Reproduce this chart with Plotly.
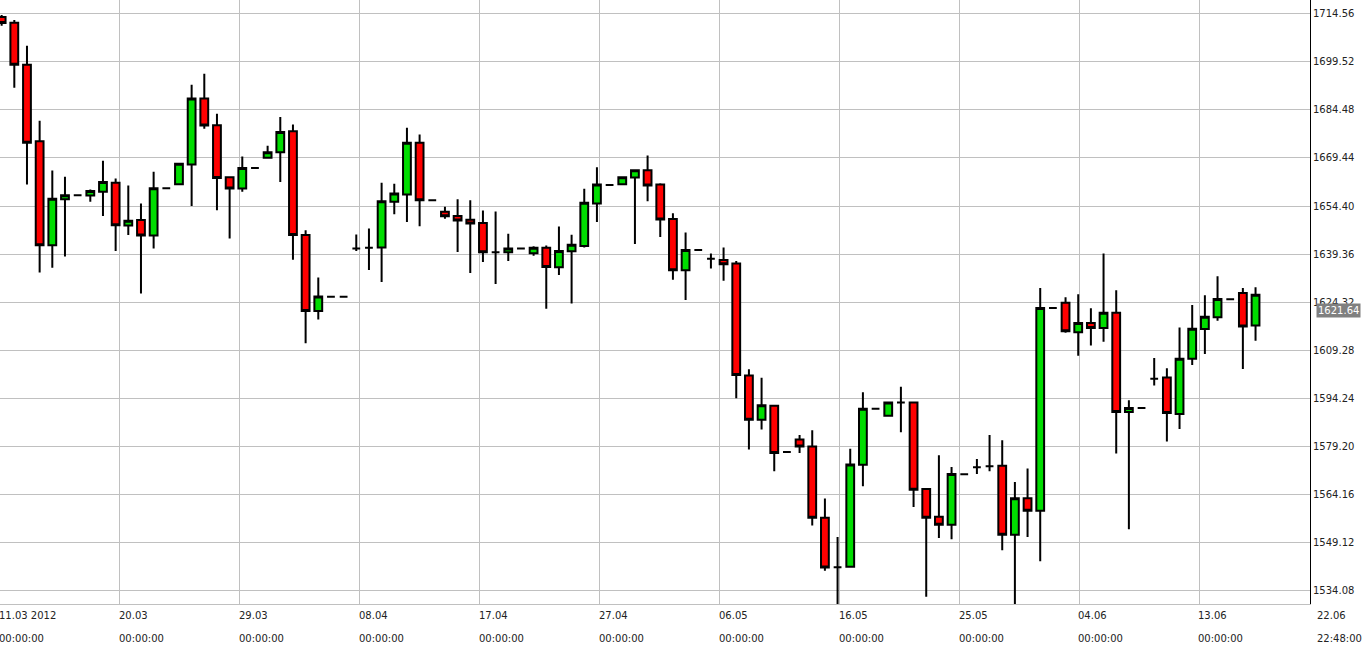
import plotly.graph_objects as go

# one candle per slot
opens = [1713.6, 1711.8, 1698.6, 1674.7, 1642.1, 1656.5, 1657.8, 1657.7, 1658.9, 1661.7,
         1648.3, 1650.0, 1645.2, 1660.0, 1661.2, 1667.4, 1688.1, 1679.7, 1663.4, 1659.9,
         1666.3, 1669.5, 1671.2, 1677.8, 1645.3, 1621.5, 1626.0, 1626.0, 1641.1, 1641.3,
         1641.4, 1655.7, 1658.0, 1674.2, 1656.2, 1652.6, 1651.3, 1650.1, 1649.1, 1639.9,
         1639.9, 1641.1, 1639.6, 1641.3, 1635.2, 1640.2, 1641.9, 1655.2, 1661.0, 1661.2,
         1663.3, 1665.6, 1661.1, 1650.3, 1634.3, 1640.6, 1637.9, 1637.5, 1636.4, 1601.3,
         1587.5, 1591.9, 1577.4, 1581.3, 1579.1, 1556.8, 1541.3, 1541.5, 1573.4, 1590.9,
         1588.7, 1592.9, 1592.9, 1565.8, 1557.1, 1554.6, 1570.4, 1572.6, 1572.9, 1573.1,
         1551.5, 1562.9, 1559.0, 1622.5, 1624.1, 1614.9, 1617.8, 1616.2, 1621.0, 1589.9,
         1591.2, 1600.3, 1600.7, 1589.3, 1606.6, 1615.9, 1619.6, 1625.2, 1627.2, 1617.0]
highs = [1714.2, 1712.6, 1704.6, 1681.1, 1665.5, 1663.6, 1658.0, 1659.6, 1668.6, 1663.0,
         1660.8, 1655.2, 1665.1, 1660.2, 1667.8, 1692.4, 1695.8, 1683.3, 1663.6, 1669.9,
         1666.5, 1673.3, 1682.3, 1679.9, 1646.8, 1632.0, 1626.2, 1626.2, 1645.5, 1647.4,
         1661.7, 1661.4, 1678.9, 1676.8, 1656.4, 1654.2, 1656.5, 1656.2, 1653.0, 1652.7,
         1645.7, 1641.3, 1641.8, 1642.0, 1648.0, 1645.4, 1659.8, 1666.5, 1661.2, 1663.4,
         1665.6, 1670.2, 1661.5, 1652.1, 1646.1, 1640.8, 1639.5, 1641.4, 1637.2, 1603.3,
         1600.6, 1591.9, 1577.6, 1582.7, 1584.2, 1562.8, 1550.8, 1578.4, 1596.1, 1591.1,
         1592.9, 1597.8, 1592.9, 1566.1, 1576.4, 1572.7, 1570.6, 1575.2, 1582.7, 1581.1,
         1568.0, 1572.2, 1628.7, 1622.7, 1625.8, 1626.8, 1622.4, 1639.5, 1628.0, 1593.6,
         1591.4, 1606.8, 1603.6, 1616.4, 1623.4, 1626.5, 1632.4, 1625.4, 1628.7, 1629.0]
lows = [1710.8, 1691.4, 1661.1, 1633.6, 1635.1, 1638.6, 1657.6, 1655.7, 1651.3, 1640.3,
        1645.3, 1627.0, 1641.1, 1659.8, 1661.2, 1654.4, 1678.6, 1653.1, 1644.2, 1658.9,
        1666.1, 1669.2, 1661.9, 1637.6, 1611.4, 1618.9, 1625.8, 1625.8, 1640.3, 1634.4,
        1630.6, 1651.8, 1649.4, 1648.1, 1656.0, 1650.4, 1640.0, 1633.4, 1636.9, 1630.0,
        1637.2, 1640.9, 1638.8, 1622.2, 1632.8, 1623.9, 1641.4, 1649.4, 1660.8, 1661.2,
        1642.5, 1655.9, 1644.7, 1631.3, 1625.0, 1640.4, 1634.8, 1631.0, 1594.2, 1578.2,
        1584.4, 1571.4, 1577.2, 1577.1, 1554.4, 1540.2, 1525.6, 1541.5, 1566.7, 1590.7,
        1588.7, 1583.6, 1560.2, 1532.1, 1550.5, 1550.1, 1570.2, 1570.5, 1571.4, 1546.6,
        1529.8, 1550.8, 1543.2, 1622.3, 1614.7, 1607.5, 1610.7, 1611.9, 1576.9, 1553.2,
        1591.0, 1598.2, 1580.7, 1584.6, 1604.6, 1608.1, 1618.5, 1625.0, 1603.4, 1612.2]
closes = [1711.7, 1698.6, 1674.2, 1642.1, 1656.7, 1657.8, 1657.8, 1659.1, 1661.9, 1648.4,
          1649.8, 1645.2, 1660.0, 1660.0, 1667.6, 1688.1, 1679.6, 1663.2, 1659.9, 1666.3,
          1666.3, 1671.2, 1677.6, 1645.3, 1621.5, 1626.1, 1626.0, 1626.0, 1641.1, 1641.3,
          1655.9, 1658.3, 1674.2, 1656.2, 1656.2, 1651.2, 1649.9, 1648.9, 1639.9, 1639.9,
          1641.1, 1641.1, 1641.3, 1635.3, 1640.3, 1642.3, 1655.4, 1661.1, 1661.0, 1663.4,
          1665.6, 1660.8, 1650.2, 1634.3, 1640.6, 1640.6, 1637.9, 1636.2, 1601.5, 1587.5,
          1592.0, 1577.1, 1577.4, 1579.1, 1556.8, 1541.2, 1541.3, 1573.5, 1590.9, 1590.9,
          1592.9, 1592.9, 1565.6, 1556.8, 1554.6, 1570.5, 1570.4, 1572.6, 1572.9, 1551.5,
          1562.9, 1559.0, 1622.5, 1622.5, 1615.2, 1617.8, 1616.2, 1621.0, 1589.9, 1591.2,
          1591.2, 1600.3, 1589.6, 1606.6, 1616.0, 1619.7, 1625.3, 1625.2, 1616.7, 1626.6]
slots = list(range(len(opens)))

date_labels = ["11.03 2012", "20.03", "29.03", "08.04", "17.04", "27.04", "06.05",
               "16.05", "25.05", "04.06", "13.06", "22.06"]
time_labels = ["00:00:00"] * 11 + ["22:48:00"]
y_ticks = [1534.08, 1549.12, 1564.16, 1579.20, 1594.24, 1609.28, 1624.32,
           1639.36, 1654.40, 1669.44, 1684.48, 1699.52, 1714.56]
last_price = 1621.64

step = 9.47
x_ticks = [-0.13 + step * k for k in range(len(date_labels))]

fig = go.Figure(go.Candlestick(
    x=slots, open=opens, high=highs, low=lows, close=closes,
    increasing=dict(line=dict(color="black", width=2), fillcolor="#00dd00"),
    decreasing=dict(line=dict(color="black", width=2), fillcolor="#ff0000"),
    whiskerwidth=0, showlegend=False, hoverinfo="skip",
))

for i, (xt, d, t) in enumerate(zip(x_ticks, date_labels, time_labels)):
    last = i == len(date_labels) - 1
    pos = dict(x=1, xref="paper", xshift=5) if last else dict(x=xt, xref="x", xshift=-3)
    fig.add_annotation(y=0, yref="paper", yanchor="top", xanchor="left", text=d,
                       showarrow=False, font=dict(size=10, color="#222"), yshift=-4, **pos)
    fig.add_annotation(y=0, yref="paper", yanchor="top", xanchor="left", text=t,
                       showarrow=False, font=dict(size=10, color="#222"), yshift=-27, **pos)

fig.add_annotation(x=1, y=last_price, xref="paper", yref="y", xanchor="left",
                   text=f"{last_price:.2f}", showarrow=False, bgcolor="#808080",
                   font=dict(size=10, color="white"), borderpad=1, xshift=6)

fig.update_layout(
    width=1363, height=647, paper_bgcolor="white", plot_bgcolor="white",
    margin=dict(l=0, r=53, t=0, b=43, autoexpand=False),
    font=dict(family="DejaVu Sans", size=10, color="#222"),
    boxgap=0.12,
    xaxis=dict(range=[-0.13, 103.3], tickvals=x_ticks, showticklabels=False,
               showgrid=True, gridcolor="#c0c0c0", gridwidth=1, zeroline=False,
               rangeslider=dict(visible=False), showline=True, linecolor="#c0c0c0"),
    yaxis=dict(range=[1529.8, 1718.9], side="right", tickvals=y_ticks,
               ticktext=[f"{v:.2f}" for v in y_ticks], showgrid=True,
               gridcolor="#c0c0c0", gridwidth=1, zeroline=False,
               showline=True, linecolor="black", ticks="", ticklen=0),
)

fig.write_html("out.html", config={"displayModeBar": False},
               post_script="document.body.style.margin='0';")
